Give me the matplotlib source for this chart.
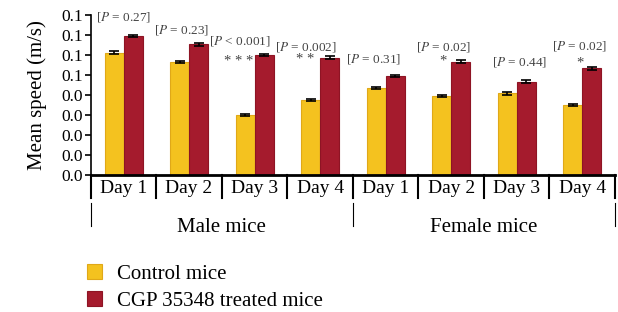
import matplotlib
matplotlib.use("Agg")
import matplotlib.pyplot as plt
import numpy as np

plt.rcParams['font.family'] = ['Liberation Serif', 'DejaVu Serif']
plt.rcParams['mathtext.fontset'] = 'stix'

days = ['Day 1', 'Day 2', 'Day 3', 'Day 4', 'Day 1', 'Day 2', 'Day 3', 'Day 4']
groups = ['Male mice', 'Female mice']
control = [0.0612, 0.0565, 0.0300, 0.0375, 0.0435, 0.0395, 0.0408, 0.0350]
control_err = [0.0006, 0.0006, 0.0006, 0.0006, 0.0006, 0.0006, 0.0006, 0.0006]
treated = [0.0695, 0.0653, 0.0600, 0.0587, 0.0497, 0.0567, 0.0467, 0.0533]
treated_err = [0.0006, 0.0007, 0.0007, 0.0006, 0.0005, 0.0007, 0.0007, 0.0007]
p_text = ['= 0.27', '= 0.23', '< 0.001', '= 0.002', '= 0.31', '= 0.02', '= 0.44', '= 0.02']
stars = ['', '', '* * *', '* *', '', '*', '', '*']
yticks = [0.0, 0.01, 0.02, 0.03, 0.04, 0.05, 0.06, 0.07, 0.08]
ytick_labels = ['0.0', '0.0', '0.0', '0.0', '0.0', '0.1', '0.1', '0.1', '0.1']

# where the p-value labels and stars sit (data units)
p_x_shift = [0.0, -0.12, -0.23, -0.22, -0.19, -0.12, 0.05, -0.04]
p_y = [0.079, 0.0725, 0.067, 0.064, 0.058, 0.064, 0.0565, 0.0645]
star_x_shift = [0, 0, -0.25, -0.23, 0, -0.13, 0, -0.04]
star_y = [0, 0, 0.0568, 0.0578, 0, 0.0572, 0, 0.0562]

fig = plt.figure(figsize=(6.18, 3.12), dpi=100)
ax = fig.add_axes([0.147, 0.439, 0.848, 0.513])

x = np.arange(len(days)) + 0.5
w = 0.29
yellow = '#F4C21F'
red = '#A51B2D'

ax.bar(x - w / 2, control, w, color=yellow, edgecolor='#E0A818', linewidth=0.8,
       yerr=control_err, capsize=3.5, error_kw=dict(elinewidth=1.2, capthick=1.2, ecolor='black'),
       label='Control mice', zorder=2)
ax.bar(x + w / 2, treated, w, color=red, edgecolor='#8E1424', linewidth=0.8,
       yerr=treated_err, capsize=3.5, error_kw=dict(elinewidth=1.2, capthick=1.2, ecolor='black'),
       label='CGP 35348 treated mice', zorder=2)

for i in range(len(days)):
    ax.text(x[i] + p_x_shift[i], p_y[i], '[$P$ ' + p_text[i] + ']', ha='center', va='center',
            fontsize=9.5, color='#444444')
    if stars[i]:
        ax.text(x[i] + star_x_shift[i], star_y[i], stars[i],
                ha='center', va='center', fontsize=10.5, color='#444444')

ax.set_xlim(0, len(days))
ax.set_ylim(0, 0.08)
ax.set_yticks(yticks)
ax.set_yticklabels(ytick_labels)
ax.set_xticks([])
ax.tick_params(axis='y', labelsize=12.5, length=4, width=1.2, direction='out', pad=2)
ax.set_ylabel('Mean speed (m/s)', fontsize=15, labelpad=10)

for s in ['top', 'right']:
    ax.spines[s].set_visible(False)
ax.spines['left'].set_linewidth(1.2)
ax.spines['bottom'].set_linewidth(2)

trans = ax.get_xaxis_transform()
for i in range(len(days) + 1):
    ax.plot([i, i], [0, -0.145], transform=trans, color='black', lw=1.5, clip_on=False)
for i in range(len(days)):
    ax.text(x[i], -0.085, days[i], transform=trans, ha='center', va='center', fontsize=14)
for g in range(len(groups) + 1):
    ax.plot([g * 4, g * 4], [-0.175, -0.32], transform=trans, color='black', lw=0.8, clip_on=False)
for g in range(len(groups)):
    ax.text(g * 4 + 2, -0.325, groups[g], transform=trans, ha='center', va='center', fontsize=15)

fig.legend(loc='upper left', bbox_to_anchor=(0.128, 0.18), frameon=False, fontsize=15,
           handlelength=0.7, handleheight=0.7, handletextpad=0.7, labelspacing=0.35,
           borderaxespad=0)

fig.savefig('out.png', dpi=100)
